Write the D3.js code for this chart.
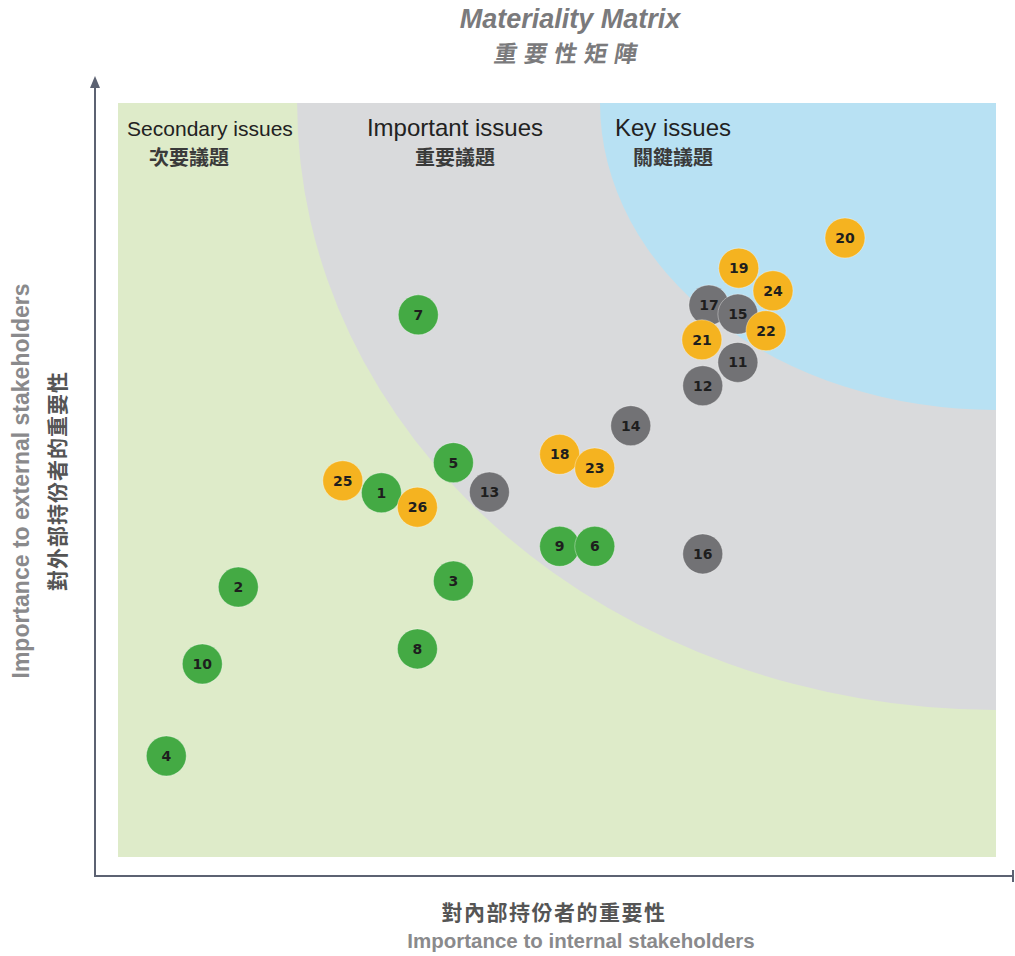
<!DOCTYPE html>
<html>
<head>
<meta charset="utf-8">
<title>Materiality Matrix</title>
<script src="https://d3js.org/d3.v7.min.js"></script>
<style>
body { margin: 0; background: #fff; }
</style>
</head>
<body>
<script>

// issue numbers, drawn in this order (later ones sit on top)
var issueIds   = [4, 10, 2, 8, 3, 7, 25, 1, 26, 5, 13, 9, 6, 16, 14, 18, 23, 12, 11, 17, 15, 21, 22, 19, 24, 20];
// importance to internal stakeholders (0-100)
var internal   = [5.5, 9.6, 13.7, 34.1, 38.2, 34.2, 25.6, 30.0, 34.1, 38.2, 42.3, 50.3, 54.3, 66.6, 58.4, 50.3, 54.3, 66.6, 70.6, 67.3, 70.6, 66.5, 73.8, 70.7, 74.6, 82.8];
// importance to external stakeholders (0-100)
var external   = [13.4, 25.6, 35.8, 27.6, 36.6, 71.9, 49.9, 48.3, 46.4, 52.3, 48.4, 41.2, 41.2, 40.2, 57.2, 53.4, 51.6, 62.5, 65.6, 73.2, 72.0, 68.6, 69.8, 78.1, 75.1, 82.1];
// issue group
var groups     = ["g", "g", "g", "g", "g", "g", "o", "g", "o", "g", "k", "g", "g", "k", "k", "o", "o", "k", "k", "k", "k", "o", "o", "o", "o", "o"];

// zone boundaries, radii measured from the top-right corner (data units)
var zoneNames  = ["secondary", "important", "key"];
var zoneRx     = [0, 79.6, 45.1];
var zoneRy     = [0, 80.5, 40.7];

var zoneLabelsEn = ["Secondary issues", "Important issues", "Key issues"];
var zoneLabelsZh = ["次要議題", "重要議題", "關鍵議題"];

var width = 1015, height = 956;
var plot = {left: 118, right: 996, top: 103, bottom: 857};

var bubbleColor = {g: "#44aa44", k: "#727275", o: "#f5b320"};
var zoneColor = ["#deebc9", "#d9dadc", "#b8e1f3"];

var svg = d3.select("body").append("svg")
    .attr("width", width)
    .attr("height", height)
    .style("font-family", "'Liberation Sans', Arial, sans-serif");

var x = d3.scaleLinear().domain([0, 100]).range([plot.left, plot.right]);
var y = d3.scaleLinear().domain([0, 100]).range([plot.bottom, plot.top]);

svg.append("clipPath").attr("id", "plotclip")
   .append("rect")
   .attr("x", plot.left).attr("y", plot.top)
   .attr("width", plot.right - plot.left)
   .attr("height", plot.bottom - plot.top);

var gZone = svg.append("g").attr("clip-path", "url(#plotclip)");

gZone.append("rect")
     .attr("x", plot.left).attr("y", plot.top)
     .attr("width", plot.right - plot.left)
     .attr("height", plot.bottom - plot.top)
     .attr("fill", zoneColor[0]);

for (var z = 1; z < zoneNames.length; z++) {
  gZone.append("ellipse")
       .attr("cx", x(100))
       .attr("cy", y(100))
       .attr("rx", x(zoneRx[z]) - x(0))
       .attr("ry", y(0) - y(zoneRy[z]))
       .attr("fill", zoneColor[z]);
}

// zone labels
var labelX = [210, 455, 673];
var labelSize = [21, 24, 24];
var gLab = svg.append("g");
gLab.selectAll(".en").data(zoneLabelsEn).enter()
    .append("text")
    .attr("x", function(d, i){ return labelX[i]; })
    .attr("y", 136)
    .attr("text-anchor", "middle")
    .attr("font-size", function(d, i){ return labelSize[i]; })
    .attr("fill", "#222")
    .text(function(d){ return d; });
gLab.selectAll(".zh").data(zoneLabelsZh).enter()
    .append("text")
    .attr("x", function(d, i){ return i == 0 ? 189 : labelX[i]; })
    .attr("y", 165)
    .attr("text-anchor", "middle")
    .attr("font-size", 20)
    .attr("font-weight", "bold")
    .attr("font-family", "'Noto Sans CJK TC', sans-serif")
    .attr("fill", "#3a3a3a")
    .text(function(d){ return d; });

// axes
var axisColor = "#5c6272";
svg.append("line")
   .attr("x1", 95).attr("y1", 84).attr("x2", 95).attr("y2", 876)
   .attr("stroke", axisColor).attr("stroke-width", 2);
svg.append("path")
   .attr("d", "M95,76 L90,88 L100,88 Z")
   .attr("fill", axisColor);
svg.append("line")
   .attr("x1", 94).attr("y1", 876).attr("x2", 1013).attr("y2", 876)
   .attr("stroke", axisColor).attr("stroke-width", 2);
svg.append("line")
   .attr("x1", 1013).attr("y1", 870).attr("x2", 1013).attr("y2", 882)
   .attr("stroke", axisColor).attr("stroke-width", 2);

// bubbles
var points = issueIds.map(function(id, i){
  return {id: id, x: internal[i], y: external[i], group: groups[i]};
});

var bubble = svg.append("g").selectAll("g")
    .data(points).enter()
    .append("g")
    .attr("transform", function(d){ return "translate(" + x(d.x) + "," + y(d.y) + ")"; });

bubble.append("circle")
      .attr("r", 20)
      .attr("fill", function(d){ return bubbleColor[d.group]; })
      .attr("stroke", "rgba(255,255,255,0.35)")
      .attr("stroke-width", 1);

bubble.append("text")
      .attr("text-anchor", "middle")
      .attr("dy", "0.36em")
      .attr("font-family", "'DejaVu Sans', Verdana, sans-serif")
      .attr("font-weight", "bold")
      .attr("font-size", 14)
      .attr("fill", "#1e1e1e")
      .text(function(d){ return d.id; });

// titles
svg.append("text")
   .attr("x", 570).attr("y", 28)
   .attr("text-anchor", "middle")
   .attr("font-size", 27)
   .attr("font-weight", "bold")
   .attr("font-style", "italic")
   .attr("fill", "#7a7a7c")
   .text("Materiality Matrix");
svg.append("text")
   .attr("x", 565).attr("y", 62)
   .attr("text-anchor", "middle")
   .attr("font-size", 23)
   .attr("font-weight", "bold")
   .attr("letter-spacing", 7)
   .attr("font-family", "'Noto Sans CJK TC', sans-serif")
   .attr("transform", "skewX(-10) translate(14,0)")
   .attr("fill", "#7a7a7c")
   .text("重要性矩陣");

// x axis titles
svg.append("text")
   .attr("x", 554).attr("y", 920)
   .attr("text-anchor", "middle")
   .attr("font-size", 21)
   .attr("font-weight", "bold")
   .attr("letter-spacing", 1.5)
   .attr("font-family", "'Noto Sans CJK TC', sans-serif")
   .attr("fill", "#555")
   .text("對內部持份者的重要性");
svg.append("text")
   .attr("x", 581).attr("y", 948)
   .attr("text-anchor", "middle")
   .attr("font-size", 20.5)
   .attr("font-weight", "bold")
   .attr("fill", "#8a8a8c")
   .text("Importance to internal stakeholders");

// y axis titles
svg.append("text")
   .attr("transform", "translate(29,481) rotate(-90)")
   .attr("text-anchor", "middle")
   .attr("font-size", 23)
   .attr("font-weight", "bold")
   .attr("fill", "#8a8a8c")
   .text("Importance to external stakeholders");
svg.append("text")
   .attr("transform", "translate(65,481) rotate(-90)")
   .attr("text-anchor", "middle")
   .attr("font-size", 21)
   .attr("font-weight", "bold")
   .attr("letter-spacing", 1)
   .attr("font-family", "'Noto Sans CJK TC', sans-serif")
   .attr("fill", "#555")
   .text("對外部持份者的重要性");

</script>
</body>
</html>
